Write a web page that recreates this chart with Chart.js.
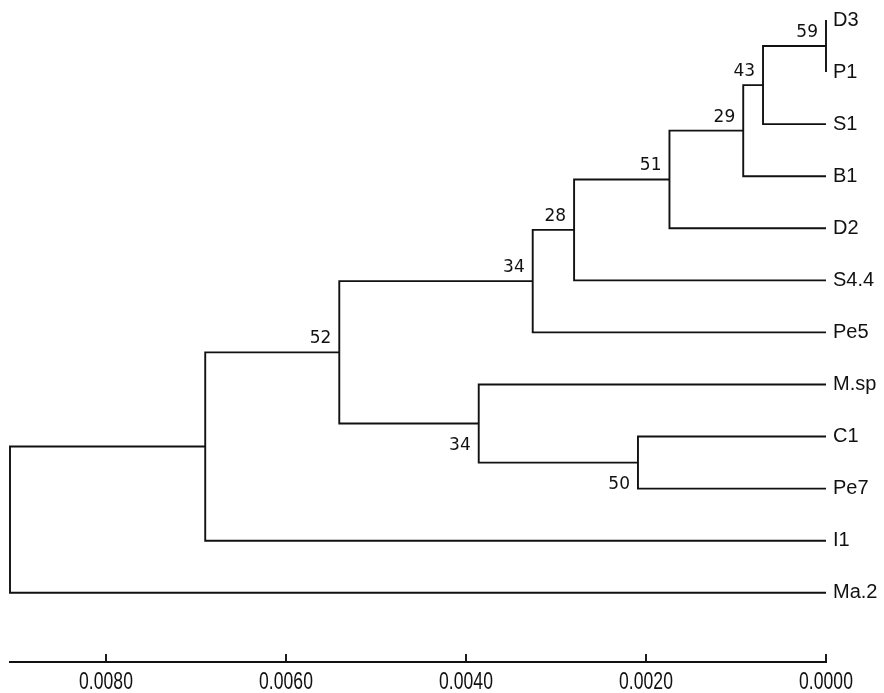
<!DOCTYPE html>
<html>
<head>
<meta charset="utf-8">
<script src="https://cdn.jsdelivr.net/npm/chart.js@4/dist/chart.umd.min.js"></script>
<style>
  html, body { margin: 0; padding: 0; background: #fff; }
</style>
</head>
<body>
<canvas id="tree" width="884" height="693"></canvas>
<script>
// leaves, top to bottom
const leafNames = ['D3', 'P1', 'S1', 'B1', 'D2', 'S4.4', 'Pe5', 'M.sp', 'C1', 'Pe7', 'I1', 'Ma.2']

// internal nodes: children are leaf names or 'n' + node index
const nodeChildren = [
    ['D3', 'P1'], ['n0', 'S1'], ['n1', 'B1'], ['n2', 'D2'], ['n3', 'S4.4'], ['n4', 'Pe5'],
    ['C1', 'Pe7'], ['M.sp', 'n6'], ['n5', 'n7'], ['n8', 'I1'], ['n9', 'Ma.2']
]
const nodeHeights = [0.0000, 0.0007, 0.00092, 0.00174, 0.0028, 0.00326, 0.00209, 0.00386, 0.00541, 0.0069, 0.00907]
const bootstrap = [59, 43, 29, 51, 28, 34, 50, 34, 52, null, null]

const xTickValues = [0.008, 0.006, 0.004, 0.002, 0]
const xTickLabels = ['0.0080', '0.0060', '0.0040', '0.0020', '0.0000']

const lineColor = '#111111'
const lineW = 1.9

// position of a leaf or node in data units (x = height, y = leaf row)
function pos(name) {
    if (/^n\d+$/.test(name)) {
        const i = +name.slice(1)
        const a = pos(nodeChildren[i][0]), b = pos(nodeChildren[i][1])
        return { x: nodeHeights[i], y: (a.y + b.y) / 2 }
    }
    return { x: 0, y: leafNames.indexOf(name) }
}

// which nodes are the lower child of their parent (label goes below)
const isLower = nodeChildren.map(() => false)
nodeChildren.forEach(ch => {
    if (/^n\d+$/.test(ch[1])) isLower[+ch[1].slice(1)] = true
})

const datasets = nodeChildren.map((ch, i) => {
    const a = pos(ch[0]), b = pos(ch[1]), h = nodeHeights[i]
    return {
        data: [{ x: a.x, y: a.y }, { x: h, y: a.y }, { x: h, y: b.y }, { x: b.x, y: b.y }],
        showLine: true,
        borderColor: lineColor,
        borderWidth: lineW,
        pointRadius: 0,
        tension: 0,
        fill: false,
        clip: false
    }
})

// ticks point up from the axis line, labels in a narrow face
const xAxisMarks = {
    id: 'xAxisMarks',
    afterDraw(chart) {
        const sx = chart.scales.x, ctx = chart.ctx, b = chart.chartArea.bottom
        ctx.save()
        ctx.strokeStyle = lineColor
        ctx.lineWidth = lineW
        sx.ticks.forEach((t, i) => {
            const px = Math.round(sx.getPixelForValue(t.value))
            ctx.beginPath()
            ctx.moveTo(px, b - 8)
            ctx.lineTo(px, b)
            ctx.stroke()
            ctx.save()
            ctx.translate(px, b + 20)
            ctx.scale(0.8, 1.08)
            ctx.font = '22px "Liberation Sans", Arial, sans-serif'
            ctx.fillStyle = '#111'
            ctx.textAlign = 'center'
            ctx.textBaseline = 'middle'
            ctx.fillText(xTickLabels[i], 0, 0)
            ctx.restore()
        })
        ctx.restore()
    }
}

const nodeLabels = {
    id: 'nodeLabels',
    afterDatasetsDraw(chart) {
        const sx = chart.scales.x, sy = chart.scales.y, ctx = chart.ctx
        ctx.save()
        ctx.font = '17px "DejaVu Sans", sans-serif'
        ctx.fillStyle = '#111'
        ctx.textAlign = 'right'
        ctx.textBaseline = 'alphabetic'
        nodeChildren.forEach((ch, i) => {
            if (bootstrap[i] == null) return
            const p = pos('n' + i)
            const px = sx.getPixelForValue(p.x) - 8
            const py = sy.getPixelForValue(p.y)
            ctx.fillText(String(bootstrap[i]), px, isLower[i] ? py + 26 : py - 9)
        })
        ctx.restore()
    }
}

new Chart(document.getElementById('tree'), {
    type: 'scatter',
    data: { datasets: datasets },
    options: {
        responsive: false,
        animation: false,
        layout: { padding: { top: 20, left: 10, right: 0, bottom: 31 } },
        plugins: { legend: { display: false }, tooltip: { enabled: false } },
        scales: {
            x: {
                type: 'linear',
                reverse: true,
                min: 0,
                max: nodeHeights[nodeHeights.length - 1],
                afterBuildTicks: s => { s.ticks = xTickValues.map(v => ({ value: v })) },
                ticks: { display: false },
                grid: { display: false, drawTicks: false },
                border: { display: true, color: lineColor, width: lineW }
            },
            y: {
                type: 'linear',
                position: 'right',
                reverse: true,
                min: 0,
                max: 12.33,
                afterBuildTicks: s => { s.ticks = leafNames.map((_, i) => ({ value: i })) },
                afterFit: s => { s.width = 58 },
                ticks: {
                    callback: (v, i) => leafNames[i],
                    font: { family: '"Liberation Sans", Arial, sans-serif', size: 20 },
                    color: '#111',
                    padding: 7,
                    autoSkip: false
                },
                grid: { display: false, drawTicks: false },
                border: { display: false }
            }
        }
    },
    plugins: [xAxisMarks, nodeLabels]
})
</script>
</body>
</html>
